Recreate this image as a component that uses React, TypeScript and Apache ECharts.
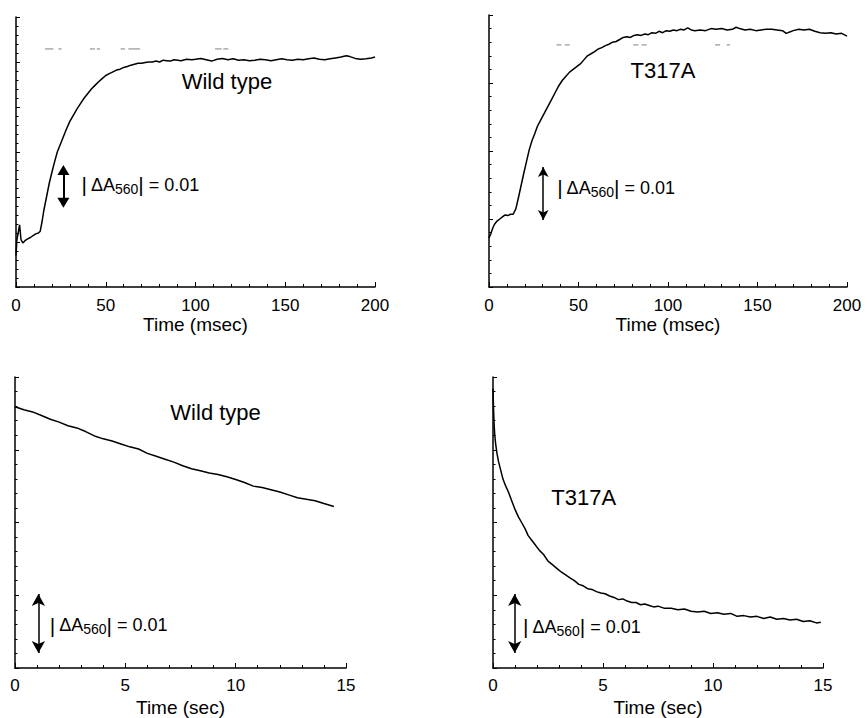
import React, { useEffect, useRef } from 'react';
import * as echarts from 'echarts';

const FONT = '"Liberation Sans", Arial, Helvetica, sans-serif';

// x-axis tick labels
const msecTicks = [0, 50, 100, 150, 200];
const secTicks = [0, 5, 10, 15];

// Top-left: wild type, formation (t in msec, relative absorbance in tick units)
const wtRise: number[][] = [
  [0, 0.7], [0.5, 1.05], [1.2, 1.2], [2.0, 1.38], [2.8, 1.05], [3.8, 0.98], [5, 1.03], [6.5, 1.07],
  [8, 1.1], [9.5, 1.14], [11, 1.18], [12.5, 1.2], [13.5, 1.24], [14.5, 1.45], [15.5, 1.7], [17, 2.0],
  [18.5, 2.3], [20, 2.55], [21.5, 2.78], [23, 3.0], [24.5, 3.15], [26, 3.3], [28, 3.5], [30, 3.68],
  [32, 3.82], [34, 3.96], [36, 4.08], [38, 4.2], [40, 4.3], [42, 4.4], [44, 4.48], [46, 4.56],
  [48, 4.63], [50, 4.7], [52, 4.74], [54, 4.78], [56, 4.82], [58, 4.84], [60, 4.88], [62, 4.9],
  [64, 4.93], [66, 4.95], [68, 4.97], [70, 4.97], [72, 4.99], [74, 5.0], [76, 5.0], [78, 5.02],
  [80, 5.0], [82, 5.04], [84, 5.03], [86, 5.02], [88, 5.05], [90, 5.04], [92, 5.03], [95, 5.06],
  [98, 5.05], [100, 5.06], [103, 5.08], [106, 5.05], [109, 5.02], [112, 5.06], [115, 5.08], [118, 5.05],
  [121, 5.07], [124, 5.04], [127, 5.05], [130, 5.03], [133, 5.04], [136, 5.06], [139, 5.05], [142, 5.03],
  [145, 5.05], [148, 5.07], [151, 5.05], [154, 5.04], [157, 5.06], [160, 5.05], [163, 5.07], [166, 5.09],
  [169, 5.06], [172, 5.05], [175, 5.07], [178, 5.09], [181, 5.11], [184, 5.14], [186, 5.12], [189, 5.08],
  [192, 5.06], [195, 5.07], [198, 5.09], [200, 5.11],
];

// faint scan specks above the top-left trace
const wtSpecks: (number | string)[][] = [
  [16.2, 5.29], [20.8, 5.29], [21, '-'], [23.6, 5.29], [25.4, 5.29], [26, '-'],
  [41.2, 5.29], [44, 5.29], [44.5, '-'], [45, 5.29], [46.8, 5.29], [47, '-'],
  [58.3, 5.29], [60.7, 5.29], [61, '-'], [62.6, 5.29], [69.1, 5.29], [70, '-'],
  [110.9, 5.29], [114.6, 5.29], [115, '-'], [115.5, 5.29], [118.3, 5.29],
];

// Top-right: T317A, formation
const mutRise: number[][] = [
  [0, 0.72], [1, 0.78], [2, 0.86], [3, 0.92], [4.5, 0.97], [6, 1.0], [7.5, 1.03], [9, 1.06],
  [10.5, 1.05], [12, 1.07], [13.5, 1.07], [15, 1.15], [16.5, 1.32], [18, 1.5], [19.5, 1.68], [21, 1.85],
  [22.5, 2.02], [24, 2.15], [25.5, 2.25], [27, 2.36], [29, 2.46], [31, 2.56], [33, 2.66], [35, 2.76],
  [37, 2.86], [39, 2.96], [41, 3.04], [43, 3.1], [45, 3.16], [47, 3.2], [49, 3.24], [51, 3.28],
  [53, 3.34], [55, 3.4], [57, 3.43], [59, 3.46], [61, 3.5], [63, 3.52], [65, 3.55], [67, 3.57],
  [69, 3.6], [71, 3.61], [73, 3.64], [75, 3.67], [77, 3.68], [79, 3.67], [81, 3.7], [83, 3.71],
  [85, 3.7], [87, 3.72], [89, 3.71], [91, 3.74], [93, 3.73], [95, 3.76], [97, 3.74], [99, 3.77],
  [101, 3.76], [103, 3.78], [105, 3.77], [107, 3.79], [109, 3.78], [111, 3.81], [113, 3.78], [115, 3.77],
  [118, 3.78], [121, 3.77], [124, 3.8], [127, 3.79], [130, 3.8], [133, 3.78], [136, 3.79], [138, 3.82],
  [140, 3.8], [143, 3.78], [146, 3.79], [149, 3.77], [152, 3.78], [155, 3.79], [158, 3.79], [161, 3.78],
  [164, 3.77], [166, 3.73], [168, 3.75], [170, 3.77], [173, 3.79], [176, 3.78], [179, 3.79], [182, 3.76],
  [185, 3.74], [188, 3.73], [191, 3.74], [194, 3.72], [197, 3.73], [200, 3.69],
];

const mutSpecks: (number | string)[][] = [
  [37.7, 3.56], [40.5, 3.56], [41, '-'], [42.4, 3.56], [45.1, 3.56], [46, '-'],
  [80.6, 3.56], [83.4, 3.56], [84, '-'], [85.3, 3.56], [88.1, 3.56], [89, '-'],
  [126.3, 3.56], [129.1, 3.56], [130, '-'], [132.8, 3.56], [134.7, 3.56],
];

// Bottom-left: wild type, decay (t in sec)
const wtDecay: number[][] = [
  [0, 3.59], [0.4, 3.55], [0.8, 3.52], [1.2, 3.47], [1.6, 3.42], [2.0, 3.38], [2.4, 3.33], [2.8, 3.3],
  [3.2, 3.25], [3.6, 3.19], [4.0, 3.15], [4.4, 3.12], [4.8, 3.08], [5.2, 3.04], [5.6, 3.01], [6.0, 2.95],
  [6.4, 2.91], [6.8, 2.87], [7.2, 2.83], [7.6, 2.78], [8.0, 2.74], [8.4, 2.71], [8.8, 2.68], [9.2, 2.66],
  [9.6, 2.63], [10.0, 2.59], [10.4, 2.55], [10.8, 2.5], [11.2, 2.48], [11.6, 2.45], [12.0, 2.42], [12.4, 2.38],
  [12.8, 2.34], [13.2, 2.32], [13.6, 2.3], [14.0, 2.26], [14.45, 2.22],
];

// Bottom-right: T317A, decay
const mutDecay: number[][] = [
  [0, 3.84], [0.02, 3.6], [0.05, 3.35], [0.08, 3.2], [0.12, 3.08], [0.18, 2.95], [0.25, 2.84], [0.35, 2.72],
  [0.45, 2.6], [0.55, 2.52], [0.7, 2.42], [0.85, 2.3], [1.0, 2.18], [1.15, 2.08], [1.3, 2.0], [1.45, 1.92],
  [1.6, 1.82], [1.75, 1.76], [1.9, 1.7], [2.1, 1.62], [2.3, 1.56], [2.5, 1.47], [2.7, 1.42], [2.9, 1.37],
  [3.1, 1.32], [3.3, 1.28], [3.5, 1.24], [3.7, 1.2], [3.9, 1.15], [4.1, 1.13], [4.3, 1.09], [4.5, 1.08],
  [4.7, 1.05], [4.9, 1.03], [5.1, 1.02], [5.3, 0.99], [5.5, 0.97], [5.7, 0.94], [5.9, 0.95], [6.1, 0.92],
  [6.3, 0.9], [6.5, 0.9], [6.7, 0.87], [6.9, 0.88], [7.1, 0.86], [7.3, 0.84], [7.5, 0.85], [7.8, 0.82],
  [8.1, 0.82], [8.4, 0.8], [8.7, 0.81], [9.0, 0.78], [9.3, 0.77], [9.6, 0.78], [9.9, 0.75], [10.2, 0.76],
  [10.5, 0.74], [10.8, 0.75], [11.1, 0.71], [11.4, 0.72], [11.7, 0.7], [12.0, 0.71], [12.3, 0.68], [12.6, 0.7],
  [12.9, 0.67], [13.2, 0.68], [13.5, 0.66], [13.8, 0.67], [14.1, 0.64], [14.4, 0.65], [14.7, 0.62], [14.9, 0.63],
];

const DELTA_TEXT = '{b||}{d|\u0394A}{s|560}{b2||}{d| = 0.01}';

function deltaLabel() {
  return {
    show: true,
    position: 'right',
    distance: 0,
    formatter: DELTA_TEXT,
    rich: {
      b: { fontFamily: FONT, fontSize: 21, color: '#000', lineHeight: 22, padding: [0, 4, 0, 0] },
      b2: { fontFamily: FONT, fontSize: 21, color: '#000', lineHeight: 22 },
      d: { fontFamily: FONT, fontSize: 18, color: '#000', lineHeight: 22 },
      s: { fontFamily: FONT, fontSize: 14, color: '#000', lineHeight: 14, height: 14, verticalAlign: 'bottom' },
    },
  };
}

function nameLabel(text: string) {
  return { show: true, position: 'inside', formatter: text, fontFamily: FONT, fontSize: 22, color: '#000' };
}

function xAxis(grid: number, ticks: number[], name: string, margin: number, gap: number) {
  return {
    type: 'value',
    gridIndex: grid,
    min: ticks[0],
    max: ticks[ticks.length - 1],
    interval: ticks[1] - ticks[0],
    name,
    nameLocation: 'middle',
    nameGap: gap,
    nameMoveOverlap: false,
    nameTextStyle: { fontFamily: FONT, fontSize: 19, color: '#000' },
    axisLine: { show: true, onZero: false, lineStyle: { color: '#000', width: 1.5 } },
    axisTick: { show: true, inside: true, length: 5, lineStyle: { color: '#000', width: 1 } },
    minorTick: { show: true, splitNumber: 5, length: 3, lineStyle: { color: '#000', width: 1 } },
    axisLabel: { show: true, margin, fontFamily: FONT, fontSize: 17, lineHeight: 18, color: '#000', hideOverlap: false, showMinLabel: true, showMaxLabel: true },
    splitLine: { show: false },
    minorSplitLine: { show: false },
  };
}

function yAxis(grid: number, max: number) {
  return {
    type: 'value',
    gridIndex: grid,
    min: 0,
    max,
    interval: 1,
    axisLine: { show: true, onZero: false, lineStyle: { color: '#000', width: 1.5 } },
    axisTick: { show: true, inside: true, length: 4, lineStyle: { color: '#000', width: 1 } },
    minorTick: { show: true, splitNumber: 5, length: 2.5, lineStyle: { color: '#000', width: 1 } },
    axisLabel: { show: false },
    splitLine: { show: false },
    minorSplitLine: { show: false },
  };
}

function arrowLine(x: number, y1: number, y2: number, sym: string, size: number[], width: number) {
  return {
    silent: true,
    symbol: [sym, sym],
    symbolSize: size,
    lineStyle: { color: '#000', width, type: 'solid' },
    itemStyle: { color: '#000' },
    label: { show: false },
    emphasis: { disabled: true },
    data: [[{ coord: [x, y1] }, { coord: [x, y2] }]],
  };
}

function trace(idx: number, data: number[][], extra: any) {
  return {
    type: 'line',
    xAxisIndex: idx,
    yAxisIndex: idx,
    data,
    showSymbol: false,
    symbol: 'none',
    lineStyle: { color: '#000', width: 1.5 },
    itemStyle: { color: '#000' },
    ...extra,
  };
}

function specks(idx: number, data: (number | string)[][]) {
  return {
    type: 'line',
    xAxisIndex: idx,
    yAxisIndex: idx,
    data,
    showSymbol: false,
    symbol: 'none',
    connectNulls: false,
    lineStyle: { color: '#808080', width: 1 },
    silent: true,
  };
}

function markPoints(items: any[]) {
  return {
    silent: true,
    symbol: 'circle',
    symbolSize: 1,
    itemStyle: { color: 'rgba(0,0,0,0)' },
    data: items,
  };
}

export default function App() {
  const ref = useRef<HTMLDivElement>(null);

  useEffect(() => {
    document.body.style.margin = '0';
    if (!ref.current) return;
    const chart = echarts.init(ref.current, null, { renderer: 'svg' });
    const option: any = {
      animation: false,
      backgroundColor: '#fff',
      grid: [
        { left: 16, top: 17, width: 359, height: 270, outerBoundsMode: 'none' },
        { left: 489, top: 15, width: 358, height: 272, outerBoundsMode: 'none' },
        { left: 15, top: 377, width: 331, height: 291, outerBoundsMode: 'none' },
        { left: 493, top: 377, width: 330, height: 291, outerBoundsMode: 'none' },
      ],
      xAxis: [
        xAxis(0, msecTicks, 'Time (msec)', 9, 28),
        xAxis(1, msecTicks, 'Time (msec)', 9, 28),
        xAxis(2, secTicks, 'Time (sec)', 8, 30),
        xAxis(3, secTicks, 'Time (sec)', 8, 30),
      ],
      yAxis: [yAxis(0, 6), yAxis(1, 4), yAxis(2, 4), yAxis(3, 4)],
      series: [
        trace(0, wtRise, {
          markLine: arrowLine(26.4, 2.6, 1.87, 'triangle', [12, 10], 2),
          markPoint: markPoints([
            { coord: [117.5, 4.56], label: nameLabel('Wild type') },
            { coord: [36.2, 2.27], label: deltaLabel() },
          ]),
        }),
        specks(0, wtSpecks),
        trace(1, mutRise, {
          markLine: arrowLine(30.3, 1.765, 0.985, 'arrow', [8, 10], 1.5),
          markPoint: markPoints([
            { coord: [97.2, 3.18], label: nameLabel('T317A') },
            { coord: [37.8, 1.46], label: deltaLabel() },
          ]),
        }),
        specks(1, mutSpecks),
        trace(2, wtDecay, {
          markLine: arrowLine(1.06, 1.017, 0.206, 'arrow', [10, 12], 1.5),
          markPoint: markPoints([
            { coord: [9.09, 3.51], label: nameLabel('Wild type') },
            { coord: [1.55, 0.59], label: deltaLabel() },
          ]),
        }),
        trace(3, mutDecay, {
          markLine: arrowLine(0.986, 1.017, 0.206, 'arrow', [10, 12], 1.5),
          markPoint: markPoints([
            { coord: [4.12, 2.35], label: nameLabel('T317A') },
            { coord: [1.34, 0.57], label: deltaLabel() },
          ]),
        }),
      ],
    };
    chart.setOption(option);
    return () => chart.dispose();
  }, []);

  return <div ref={ref} style={{ width: 867, height: 718 }} />;
}
